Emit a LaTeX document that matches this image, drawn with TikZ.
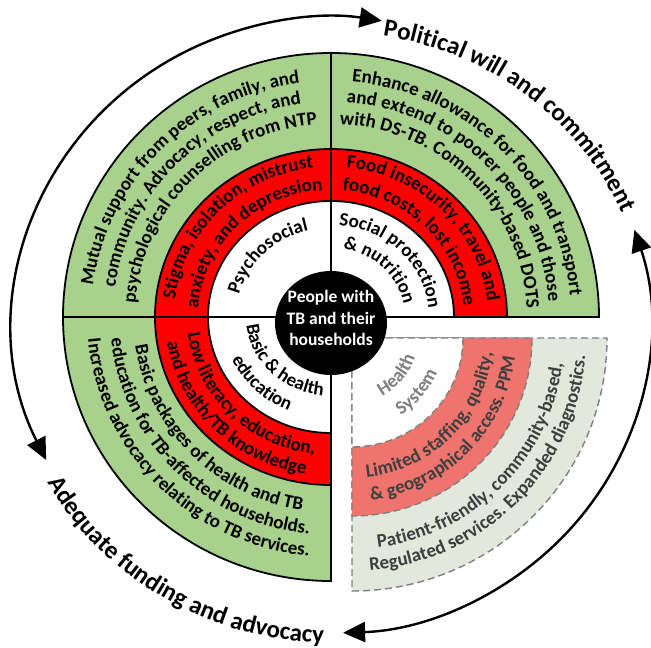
\documentclass[tikz,border=0pt]{standalone}
\usepackage{fontspec}
\setmainfont{Carlito}
\usetikzlibrary{calc, arrows.meta, decorations.text, shapes.geometric}
\usepackage{xcolor}
\definecolor{xgreen}{HTML}{A9D18E}
\definecolor{xred}{HTML}{FF0000}
\definecolor{xsalmon}{HTML}{F0746E}
\definecolor{xsage}{HTML}{E3E8DC}
\definecolor{xgrey}{HTML}{7F7F7F}
\definecolor{xdark}{HTML}{3F3F3F}
\newcommand{\ringfont}{\bfseries\fontsize{19}{19}\selectfont}
\newcommand{\outerfont}{\bfseries\fontsize{25}{25}\selectfont}
\newcommand{\hubfont}{\bfseries\fontsize{17.5}{21.5}\selectfont}
\tikzset{
	band/.style={draw=black, line width=1.8pt},
	hsband/.style={draw=xgrey, line width=1.4pt, dash pattern=on 7pt off 4pt},
	cyclearrow/.style={line width=2.4pt, {Triangle[length=22pt,width=20pt]}-{Triangle[length=22pt,width=20pt]}},
}
\newcommand{\wedgefill}[5]{\draw[#1] (0,0) -- (#2:#4 and #5) arc[start angle=#2, end angle=#3, x radius=#4, y radius=#5] -- cycle;}
\newcommand{\arclabel}[6][black]{\path[decorate, decoration={text along path, text align=center, text color=#1, text={|\ringfont|#6}}] (#4:#2 and #3) arc[start angle=#4, end angle=#5, x radius=#2, y radius=#3];}

\begin{document}
\begin{tikzpicture}[x=1pt, y=1pt]
		\useasboundingbox (-331,-331) rectangle (320,317);

		\wedgefill{band, fill=xgreen}{90}{180}{268}{264}
		\wedgefill{band, fill=xgreen}{0}{90}{268}{264}
		\wedgefill{band, fill=xgreen}{180}{270}{268}{264}
		\wedgefill{band, fill=xred}{90}{180}{176}{168}
		\wedgefill{band, fill=xred}{0}{90}{176}{168}
		\wedgefill{band, fill=xred}{180}{270}{176}{168}
		\wedgefill{band, fill=white}{90}{180}{123}{116}
		\wedgefill{band, fill=white}{0}{90}{123}{116}
		\wedgefill{band, fill=white}{180}{270}{123}{116}

		% psychosocial
		\arclabel{240}{236}{181}{89}{Mutual support from peers, family, and}
		\arclabel{218}{215}{181}{89}{community. Advocacy, respect, and}
		\arclabel{196}{193}{181}{89}{psychological counselling from NTP}
		\arclabel{157}{150}{181}{89}{Stigma, isolation, mistrust}
		\arclabel{133}{127}{181}{89}{anxiety, and depression}
		\arclabel{95}{89}{181}{89}{Psychosocial}

		% social protection
		\arclabel{240}{236}{91}{-1}{Enhance allowance for food and transport}
		\arclabel{218}{215}{91}{-1}{and extend to poorer people and those}
		\arclabel{196}{193}{91}{-1}{with DS-TB. Community-based DOTS}
		\arclabel{157}{150}{91}{-1}{Food insecurity, travel and}
		\arclabel{133}{127}{91}{-1}{food costs, lost income}
		\arclabel{98}{92}{95}{-5}{Social protection}
		\arclabel{74}{69}{95}{-5}{{\&} nutrition}

		% education
		\arclabel{198}{195}{179}{271}{Basic packages of health and TB}
		\arclabel{221}{218}{179}{271}{education for TB-affected households.}
		\arclabel{244}{240}{179}{271}{Increased advocacy relating to TB services.}
		\arclabel{144}{138}{179}{271}{Low literacy, education,}
		\arclabel{166}{159}{179}{271}{and health/TB knowledge}
		\arclabel{85}{79}{179}{271}{Basic {\&} health}
		\arclabel{109}{102}{179}{271}{education}

		\begin{scope}[shift={(21,-21)}]
			\wedgefill{hsband, fill=xsage}{-90}{0}{255}{253}
			\wedgefill{hsband, fill=xsalmon}{-90}{0}{180}{178}
			\wedgefill{hsband, fill=white}{-90}{0}{111}{109}
			\arclabel[xgrey]{66}{65}{-80}{0}{Health}
			\arclabel[xgrey]{92}{91}{-80}{0}{System}
			\arclabel[xdark]{141}{140}{-90}{0}{Limited staffing, quality,}
			\arclabel[xdark]{164}{163}{-90}{0}{{\&} geographical access. PPM}
			\arclabel[xdark]{212}{211}{-90}{0}{Patient-friendly, community-based,}
			\arclabel[xdark]{234}{233}{-90}{0}{Regulated services. Expanded diagnostics.}
		\end{scope}

		\node[ellipse, fill=black, minimum width=112pt, minimum height=104pt, inner sep=0pt] (hub) at (0,-6) {};
		\node[text=white, align=center, font=\hubfont] (hubtext) at (0,-1) {People with\\TB and their\\households};

		\begin{scope}[shift={(1,-8)}]
			\draw[cyclearrow] (206:318 and 308) arc[start angle=206, end angle=81, x radius=318, y radius=308];
			\draw[cyclearrow] (18:318 and 308) arc[start angle=18, end angle=-88, x radius=318, y radius=308];
			\path[decorate, decoration={text along path, text align=center, text={|\outerfont|Political will and commitment}}] (96:313 and 293) arc[start angle=96, end angle=6, x radius=313, y radius=293];
			\path[decorate, decoration={text along path, text align=center, text={|\outerfont|Adequate funding and advocacy}}] (199:328 and 318) arc[start angle=199, end angle=279, x radius=328, y radius=318];
		\end{scope}
	\end{tikzpicture}
\end{document}
